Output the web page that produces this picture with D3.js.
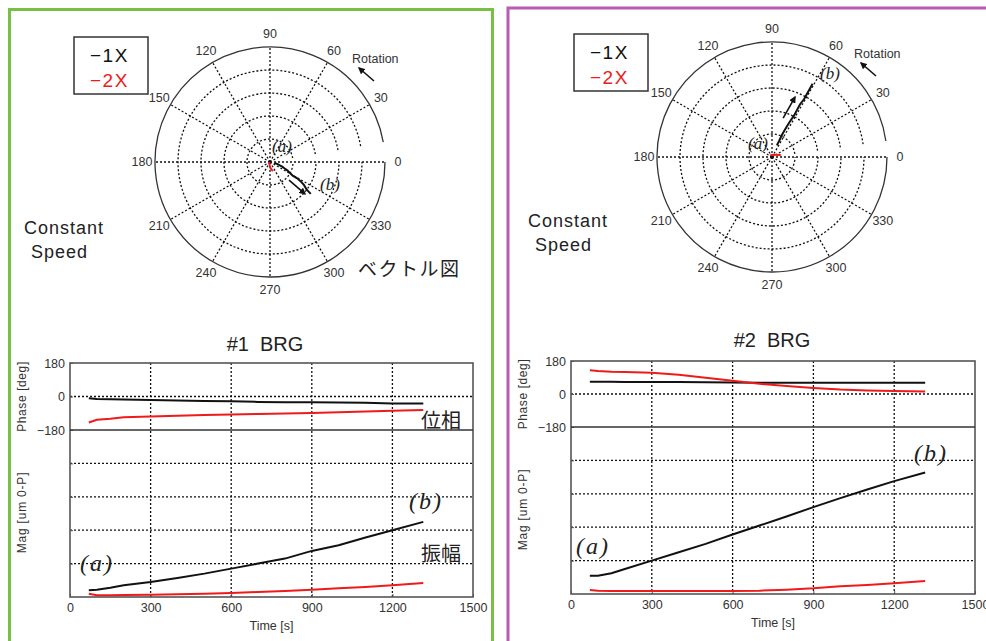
<!doctype html>
<html>
<head>
<meta charset="utf-8" />
<title>BRG vector / trend</title>
<script src="https://d3js.org/d3.v7.min.js"></script>
<style>
  body { margin: 0; background: #fff; }
  svg text { font-family: "Liberation Sans", Arial, sans-serif; fill: #222; }
  .jp { font-family: "Noto Sans CJK JP", sans-serif; }
  .ital { font-family: "Liberation Serif", "DejaVu Serif", serif; font-style: italic; }
</style>
</head>
<body>
<svg id="chart" width="986" height="641"></svg>
<script>
// ---- data ----
var times = [70, 100, 150, 200, 300, 400, 500, 600, 700, 800, 900, 1000, 1100, 1200, 1315];

var brg1Phase1X = [-9, -14, -15, -16, -19, -21, -24, -26, -29, -31, -31, -32, -34, -37, -38];
var brg1Phase2X = [-140, -125, -120, -112, -107, -103, -100, -97, -94, -91, -88, -85, -81, -77, -72];
var brg1Mag1X = [0.2, 0.22, 0.28, 0.35, 0.45, 0.57, 0.7, 0.85, 1.0, 1.15, 1.38, 1.55, 1.78, 2.0, 2.25];
var brg1Mag2X = [0.1, 0.05, 0.05, 0.06, 0.07, 0.08, 0.1, 0.12, 0.15, 0.18, 0.22, 0.26, 0.3, 0.35, 0.42];

var brg2Phase1X = [67, 67, 67, 66, 66, 65, 64, 63, 62, 62, 62, 61, 61, 61, 61];
var brg2Phase2X = [130, 126, 122, 120, 116, 105, 88, 72, 56, 43, 33, 24, 19, 17, 13];
var brg2Mag1X = [0.55, 0.55, 0.62, 0.75, 1.0, 1.25, 1.5, 1.78, 2.05, 2.32, 2.6, 2.87, 3.13, 3.38, 3.64];
var brg2Mag2X = [0.12, 0.1, 0.09, 0.09, 0.09, 0.09, 0.09, 0.09, 0.1, 0.13, 0.17, 0.23, 0.27, 0.32, 0.39];

var timeTicks = [0, 300, 600, 900, 1200, 1500];
var phaseTicks = [180, 0, -180];
var magGrid = [1, 2, 3, 4];
var polarAngles = [0, 30, 60, 90, 120, 150, 180, 210, 240, 270, 300, 330];
var polarRings = [1, 2, 3, 4, 5];
var seriesNames = ["1X", "2X"];
var seriesColors = ["#111", "#f01a1a"];

// direction arrows drawn beside the 1X vector, [mag, deg]
var brg1Arrow = [[1.14, -43.5], [2.06, -42.4]];
var brg2Arrow = [[1.76, 74], [2.79, 69]];

var svg = d3.select('#chart');
var dots = '2,2';

// panel frames
svg.append('path')
    .attr('d', 'M9.5,660 V9.5 H492.5 V660')
    .attr('fill', 'none').attr('stroke', '#77c046').attr('stroke-width', 3);
svg.append('path')
    .attr('d', 'M508,660 V8 H1000')
    .attr('fill', 'none').attr('stroke', '#b85cb2').attr('stroke-width', 3);

// arrow marker
svg.append('defs').append('marker')
    .attr('id', 'head')
    .attr('viewBox', '0 0 10 10')
    .attr('refX', 8).attr('refY', 5)
    .attr('markerWidth', 7).attr('markerHeight', 7)
    .attr('markerUnits', 'userSpaceOnUse')
    .attr('orient', 'auto')
  .append('path')
    .attr('d', 'M0,0 L10,5 L0,10 z')
    .attr('fill', '#111');

function drawPolar(p) {
    var g = svg.append('g').attr('transform', 'translate(' + p.cx + ',' + p.cy + ')');
    var r = d3.scaleLinear().domain([0, 5]).range([0, p.R]);
    var rad = function (deg) { return deg * Math.PI / 180; };
    var pt = function (m, deg) { return [r(m) * Math.cos(rad(deg)), -r(m) * Math.sin(rad(deg))]; };

    // spokes
    g.selectAll('.spoke').data(polarAngles).enter().append('line')
        .attr('x1', 0).attr('y1', 0)
        .attr('x2', function (d) { return pt(5, d)[0]; })
        .attr('y2', function (d) { return pt(5, d)[1]; })
        .attr('stroke', '#111').attr('stroke-width', 1.3)
        .attr('stroke-dasharray', dots);

    // rings (there is a small gap just above 0 deg in the original)
    g.selectAll('.ring').data(polarRings).enter().append('path')
        .attr('d', function (d) {
            var path = d3.path();
            path.arc(0, 0, r(d), -rad(p.gap), -rad(360), true);
            return path.toString();
        })
        .attr('fill', 'none')
        .attr('stroke', function (d) { return d === 5 ? '#333' : '#111'; })
        .attr('stroke-width', 1.3)
        .attr('stroke-dasharray', function (d) { return d === 5 ? null : dots; });

    // angle labels
    g.selectAll('.alab').data(polarAngles).enter().append('text')
        .attr('x', function (d) { return (p.R + 13) * Math.cos(rad(d)); })
        .attr('y', function (d) { return -(p.R + 13) * Math.sin(rad(d)); })
        .attr('text-anchor', 'middle')
        .attr('dominant-baseline', 'central')
        .style('font-size', '12.5px')
        .style('fill', '#333')
        .text(function (d) { return d; });

    // vector trajectories
    var line = d3.line().x(function (d) { return pt(d[0], d[1])[0]; })
                        .y(function (d) { return pt(d[0], d[1])[1]; });
    [[p.mag1, p.ph1], [p.mag2, p.ph2]].forEach(function (s, i) {
        g.append('path')
            .datum(d3.zip(s[0], s[1]))
            .attr('d', line)
            .attr('fill', 'none')
            .attr('stroke', seriesColors[i])
            .attr('stroke-width', 2);
    });

    // direction arrow
    var a0 = pt(p.arrow[0][0], p.arrow[0][1]), a1 = pt(p.arrow[1][0], p.arrow[1][1]);
    g.append('line')
        .attr('x1', a0[0]).attr('y1', a0[1]).attr('x2', a1[0]).attr('y2', a1[1])
        .attr('stroke', '#111').attr('stroke-width', 1.6)
        .attr('marker-end', 'url(#head)');

    // (a) (b)
    g.append('text').attr('class', 'ital').attr('x', p.aLab[0]).attr('y', p.aLab[1])
        .attr('text-anchor', 'middle').attr('dominant-baseline', 'central')
        .style('font-size', '17px').text('(a)');
    g.append('text').attr('class', 'ital').attr('x', p.bLab[0]).attr('y', p.bLab[1])
        .attr('text-anchor', 'middle').attr('dominant-baseline', 'central')
        .style('font-size', '17px').text('(b)');

    // rotation note
    g.append('text').attr('x', 82).attr('y', -99)
        .style('font-size', '12.5px').style('fill', '#333').text('Rotation');
    g.append('line')
        .attr('x1', 104).attr('y1', -81).attr('x2', 89).attr('y2', -94)
        .attr('stroke', '#111').attr('stroke-width', 1.6)
        .attr('marker-end', 'url(#head)');

    // legend
    var lg = svg.append('g').attr('transform', 'translate(' + p.legend[0] + ',' + p.legend[1] + ')');
    lg.append('rect').attr('width', 74).attr('height', 57)
        .attr('fill', '#fff').attr('stroke', '#333').attr('stroke-width', 1.5);
    lg.selectAll('.lt').data(seriesNames).enter().append('text')
        .attr('x', 16)
        .attr('y', function (d, i) { return 25 + i * 25; })
        .style('font-size', '19px')
        .style('letter-spacing', '1.5px')
        .style('fill', function (d, i) { return seriesColors[i]; })
        .text(function (d) { return '\u2212' + d; });

    // Constant Speed
    svg.append('text').attr('x', p.cs[0]).attr('y', p.cs[1])
        .style('font-size', '18px').style('letter-spacing', '1px').text('Constant');
    svg.append('text').attr('x', p.cs[0] + 7).attr('y', p.cs[1] + 24)
        .style('font-size', '18px').style('letter-spacing', '1px').text('Speed');
}

function drawTrend(p) {
    var g = svg.append('g');
    var x = d3.scaleLinear().domain([0, 1500]).range([p.x0, p.x1]);
    var yP = d3.scaleLinear().domain([-180, 180]).range([p.yDiv, p.y0]);
    var yM = d3.scaleLinear().domain([0, 5]).range([p.y1, p.yDiv]);

    // grid
    g.selectAll('.vg').data(timeTicks.slice(1, -1)).enter().append('line')
        .attr('x1', x).attr('x2', x).attr('y1', p.y0).attr('y2', p.y1)
        .attr('stroke', '#111').attr('stroke-width', 1.3).attr('stroke-dasharray', dots);
    g.selectAll('.mg').data(magGrid).enter().append('line')
        .attr('x1', p.x0).attr('x2', p.x1).attr('y1', yM).attr('y2', yM)
        .attr('stroke', '#111').attr('stroke-width', 1.3).attr('stroke-dasharray', dots);
    g.append('line')
        .attr('x1', p.x0).attr('x2', p.x1).attr('y1', yP(0)).attr('y2', yP(0))
        .attr('stroke', '#111').attr('stroke-width', 1.3).attr('stroke-dasharray', dots);

    // axes
    var ax = g.append('g').attr('transform', 'translate(0,' + p.y1 + ')')
        .call(d3.axisBottom(x).tickValues(timeTicks).tickFormat(d3.format('d')).tickSize(-3).tickPadding(6));
    var ap = g.append('g').attr('transform', 'translate(' + p.x0 + ',0)')
        .call(d3.axisLeft(yP).tickValues(phaseTicks).tickFormat(d3.format('d')).tickSize(-3).tickPadding(5));
    var am = g.append('g').attr('transform', 'translate(' + p.x0 + ',0)')
        .call(d3.axisLeft(yM).tickValues(magGrid).tickSize(-3).tickFormat(''));
    [ax, ap, am].forEach(function (a) {
        a.select('.domain').remove();
        a.selectAll('line').attr('stroke', '#555');
        a.selectAll('text').style('font-size', '12.5px').style('fill', '#333')
            .style('font-family', '"Liberation Sans", Arial, sans-serif');
    });

    // frame + divider
    g.append('rect').attr('x', p.x0).attr('y', p.y0)
        .attr('width', p.x1 - p.x0).attr('height', p.y1 - p.y0)
        .attr('fill', 'none').attr('stroke', '#555').attr('stroke-width', 1.6);
    g.append('line').attr('x1', p.x0).attr('x2', p.x1)
        .attr('y1', p.yDiv).attr('y2', p.yDiv)
        .attr('stroke', '#333').attr('stroke-width', 1.6);

    // series
    var phLine = d3.line().x(function (d) { return x(d[0]); }).y(function (d) { return yP(d[1]); });
    var mgLine = d3.line().x(function (d) { return x(d[0]); }).y(function (d) { return yM(d[1]); });
    [p.ph1, p.ph2].forEach(function (s, i) {
        g.append('path').datum(d3.zip(times, s)).attr('d', phLine)
            .attr('fill', 'none').attr('stroke', seriesColors[i]).attr('stroke-width', 2);
    });
    [p.mag1, p.mag2].forEach(function (s, i) {
        g.append('path').datum(d3.zip(times, s)).attr('d', mgLine)
            .attr('fill', 'none').attr('stroke', seriesColors[i]).attr('stroke-width', 2);
    });

    // titles
    g.append('text').attr('x', p.title[0]).attr('y', p.title[1])
        .attr('text-anchor', 'middle').style('font-size', '20px').style('white-space', 'pre')
        .text(p.name);
    g.append('text').attr('x', (p.x0 + p.x1) / 2).attr('y', p.y1 + 33)
        .attr('text-anchor', 'middle').style('font-size', '12.5px').style('fill', '#333')
        .text('Time [s]');
    g.append('text')
        .attr('transform', 'translate(' + (p.x0 - 44) + ',' + (p.y0 + p.yDiv) / 2 + ') rotate(-90)')
        .attr('text-anchor', 'middle').style('font-size', '12px').style('letter-spacing', '0.6px')
        .style('fill', '#333').text('Phase [deg]');
    g.append('text')
        .attr('transform', 'translate(' + (p.x0 - 44) + ',' + ((p.yDiv + p.y1) / 2 - 1) + ') rotate(-90)')
        .attr('text-anchor', 'middle').style('font-size', '12px').style('letter-spacing', '0.8px')
        .style('fill', '#333').text('Mag [um 0-P]');

    // (a) (b) markers
    g.append('text').attr('class', 'ital').attr('x', p.aLab[0]).attr('y', p.aLab[1])
        .attr('text-anchor', 'middle').attr('dominant-baseline', 'central')
        .style('font-size', '24px').style('letter-spacing', '2px').text('(a)');
    g.append('text').attr('class', 'ital').attr('x', p.bLab[0]).attr('y', p.bLab[1])
        .attr('text-anchor', 'middle').attr('dominant-baseline', 'central')
        .style('font-size', '24px').style('letter-spacing', '2px').text('(b)');
}

// ---- #1 BRG ----
drawPolar({
    cx: 270, cy: 162, R: 115, gap: 10,
    mag1: brg1Mag1X, ph1: brg1Phase1X, mag2: brg1Mag2X, ph2: brg1Phase2X,
    arrow: brg1Arrow, aLab: [12, -16], bLab: [60, 22],
    legend: [74, 37], cs: [24, 234]
});
drawTrend({
    name: '#1  BRG', title: [265, 351],
    x0: 70, x1: 473, y0: 363, yDiv: 430, y1: 597,
    ph1: brg1Phase1X, ph2: brg1Phase2X, mag1: brg1Mag1X, mag2: brg1Mag2X,
    aLab: [97, 563], bLab: [426, 501]
});
svg.append('text').attr('class', 'jp').attr('x', 358).attr('y', 276)
    .style('font-size', '19px').style('letter-spacing', '1.5px').text('ベクトル図');
svg.append('text').attr('class', 'jp').attr('x', 421).attr('y', 428)
    .style('font-size', '20px').text('位相');
svg.append('text').attr('class', 'jp').attr('x', 421).attr('y', 561)
    .style('font-size', '20px').text('振幅');

// ---- #2 BRG ----
drawPolar({
    cx: 772, cy: 157, R: 115, gap: 8,
    mag1: brg2Mag1X, ph1: brg2Phase1X, mag2: brg2Mag2X, ph2: brg2Phase2X,
    arrow: brg2Arrow, aLab: [-14, -14], bLab: [58, -84],
    legend: [574, 34], cs: [528, 227]
});
drawTrend({
    name: '#2  BRG', title: [772, 347],
    x0: 571, x1: 975, y0: 361, yDiv: 427, y1: 594,
    ph1: brg2Phase1X, ph2: brg2Phase2X, mag1: brg2Mag1X, mag2: brg2Mag2X,
    aLab: [593, 546], bLab: [931, 453]
});
</script>
</body>
</html>
